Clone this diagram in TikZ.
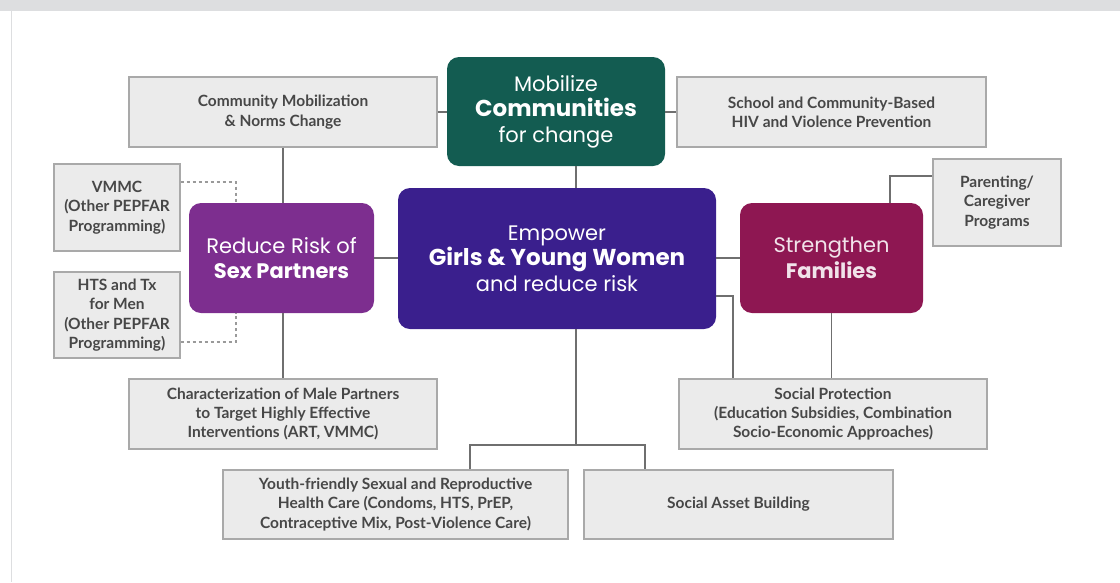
\documentclass[tikz,border=0pt]{standalone}
\usepackage{fontspec}
\setmainfont{Lato}
\newfontfamily\headfont{Poppins}
\usetikzlibrary{positioning}
\definecolor{band}{HTML}{DDDEE0}
\definecolor{boxfill}{HTML}{EBEBEB}
\definecolor{boxline}{HTML}{A9A9A9}
\definecolor{linkgray}{HTML}{6F6F6F}
\definecolor{inktext}{HTML}{474747}
\definecolor{teal}{HTML}{135C51}
\definecolor{plum}{HTML}{7D2E8F}
\definecolor{indigo}{HTML}{3A1F8D}
\definecolor{berry}{HTML}{8E1752}
\newcommand{\wide}[1]{{\fontsize{23}{25.5}\selectfont\bfseries #1}}

\begin{document}
\begin{tikzpicture}[x=1pt,y=-1pt,
  item/.style={draw=boxline,fill=boxfill,line width=1.2pt,text=inktext,align=center,inner sep=0pt,
    font=\bfseries\fontsize{15.5}{19.3}\selectfont},
  goal/.style={rounded corners=12pt,text=white,align=center,inner sep=0pt,
    font=\headfont\fontsize{21}{25.5}\selectfont},
  link/.style={draw=linkgray,line width=1.1pt},
  tie/.style={draw=linkgray!70,line width=1.1pt,dashed}]
  \useasboundingbox (0,0) rectangle (1120,582);
  \fill[band] (0,0) rectangle (1120,11);
  \draw[band,line width=1.5pt] (11.5,11)--(11.5,582);

  \node[goal,fill=teal,minimum width=218pt,minimum height=109pt] (mob) at (556,111.5)
    {Mobilize\\\wide{Communities}\\for change};
  \node[goal,fill=indigo,minimum width=318pt,minimum height=141pt] (emp) at (557,258.5)
    {Empower\\\wide{Girls \& Young Women}\\and reduce risk};
  \node[goal,fill=plum,minimum width=185pt,minimum height=110pt] (risk) at (281.5,258)
    {Reduce Risk of\\\textbf{Sex Partners}};
  \node[goal,fill=berry,minimum width=183pt,minimum height=110pt,text=white!88!berry] (fam) at (831.5,258)
    {Strengthen\\\textbf{Families}};

  \node[item,minimum width=308pt,minimum height=70pt] (cmn) at (283,112)
    {Community Mobilization\\\& Norms Change};
  \node[item,minimum width=309pt,minimum height=70pt] (sch) at (831.5,112)
    {School and Community-Based\\HIV and Violence Prevention};
  \node[item,minimum width=126pt,minimum height=87pt] (vmmc) at (117,207.5)
    {VMMC\\(Other PEPFAR\\Programming)};
  \node[item,minimum width=126pt,minimum height=86pt] (hts) at (117,315)
    {HTS and Tx\\for Men\\(Other PEPFAR\\Programming)};
  \node[item,minimum width=128pt,minimum height=87pt] (par) at (997,202.5)
    {Parenting/\\Caregiver\\Programs};
  \node[item,minimum width=308pt,minimum height=70pt] (male) at (283,414)
    {Characterization of Male Partners\\to Target Highly Effective\\Interventions (ART, VMMC)};
  \node[item,minimum width=308pt,minimum height=70pt] (prot) at (833,414)
    {Social Protection\\(Education Subsidies, Combination\\Socio-Economic Approaches)};
  \node[item,minimum width=345pt,minimum height=69pt] (youth) at (395.5,504.5)
    {Youth-friendly Sexual and Reproductive\\Health Care (Condoms, HTS, PrEP,\\Contraceptive Mix, Post-Violence Care)};
  \node[item,minimum width=309pt,minimum height=69pt] (asset) at (738.5,504.5)
    {Social Asset Building};

  \coordinate (dashv) at (236,182);
  \coordinate (dashh) at (236,342);
  \coordinate (parjoin) at (890,176);
  \coordinate (empjoin) at (733,296);
  \coordinate (split) at (576,445);
  \coordinate (ylink) at (470,445);
  \coordinate (alink) at (645,445);

  \draw[link] (cmn.east) -- (cmn.east -| mob.west);
  \draw[link] (mob.east |- sch.west) -- (sch.west);
  \draw[link] (split |- mob.south) -- (split |- emp.north);
  \draw[link] (cmn.south) -- (cmn.south |- risk.north);
  \draw[link] (risk.east) -- (emp.west |- risk.east);
  \draw[link] (emp.east |- fam.west) -- (fam.west);
  \draw[link] (cmn.south |- risk.south) -- (male.north);
  \draw[link] (fam.south) -- (fam.south |- prot.north);
  \draw[link] (parjoin |- fam.north) -- (parjoin) -- (parjoin -| par.west);
  \draw[link] (emp.east |- empjoin) -- (empjoin) -- (empjoin |- prot.north);
  \draw[link] (split |- emp.south) -- (split);
  \draw[link] (ylink |- youth.north) -- (ylink) -- (alink) -- (alink |- asset.north);
  \draw[tie] (vmmc.east |- dashv) -- (dashv) -- (dashv |- risk.north);
  \draw[tie] (hts.east |- dashh) -- (dashh) -- (dashh |- risk.south);
\end{tikzpicture}
\end{document}
